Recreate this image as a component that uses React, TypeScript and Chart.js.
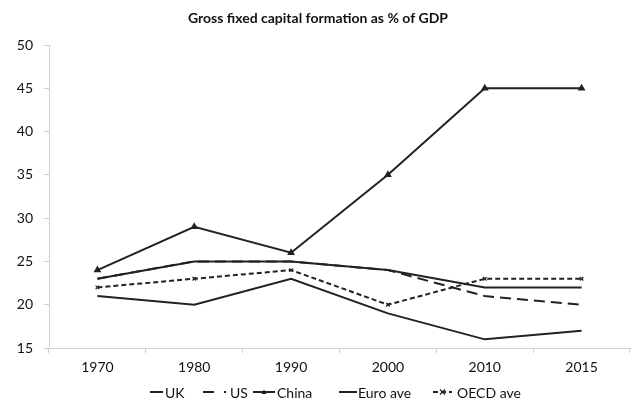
import React, { useEffect, useRef } from "react";
import { Chart, registerables } from "chart.js";
Chart.register(...registerables);

const years = ["1970", "1980", "1990", "2000", "2010", "2015"];
const ukValues = [21, 20, 23, 19, 16, 17];
const usValues = [23, 25, 25, 24, 21, 20];
const chinaValues = [24, 29, 26, 35, 45, 45];
const euroValues = [23, 25, 25, 24, 22, 22];
const oecdValues = [22, 23, 24, 20, 23, 23];
const titleText = "Gross fixed capital formation as % of GDP";
const FONT = "Lato, 'Open Sans', sans-serif";
const INK = "#222222";

export default function App() {
  const ref = useRef<HTMLCanvasElement>(null);
  useEffect(() => {
    const canvas = ref.current!;
    const legendPlugin = {
      id: "customLegend",
      afterDraw(chart: any) {
        const ctx = chart.ctx as CanvasRenderingContext2D;
        ctx.save();
        ctx.font = `bold 14px ${FONT}`;
        ctx.fillStyle = "#111";
        ctx.textAlign = "center";
        ctx.textBaseline = "middle";
        ctx.fillText(titleText, 318, 18);
        const y = 392;
        ctx.font = `14px ${FONT}`;
        ctx.textAlign = "left";
        const items = chart.data.datasets.map((d: any) => d);
        const layout = [
          { x0: 150, x1: 163, tx: 165 },
          { x0: 203, x1: 219, tx: 230 },
          { x0: 253, x1: 275, tx: 277 },
          { x0: 339, x1: 357, tx: 358 },
          { x0: 433, x1: 452, tx: 457 },
        ];
        items.forEach((d: any, i: number) => {
          const L = layout[i];
          ctx.strokeStyle = INK;
          ctx.lineWidth = 2;
          ctx.setLineDash(d.borderDash || []);
          ctx.beginPath();
          ctx.moveTo(L.x0, y);
          ctx.lineTo(L.x1, y);
          ctx.stroke();
          ctx.setLineDash([]);
          if (i === 1) {
            ctx.fillStyle = INK;
            ctx.fillRect(224, y - 1, 2, 2);
          }
          const cx = (L.x0 + L.x1) / 2;
          if (d.pointStyle === "triangle") {
            ctx.fillStyle = INK;
            ctx.beginPath();
            ctx.moveTo(cx, y - 2.5);
            ctx.lineTo(cx + 2.5, y + 2);
            ctx.lineTo(cx - 2.5, y + 2);
            ctx.closePath();
            ctx.fill();
          } else if (d.pointStyle === "crossRot") {
            ctx.lineWidth = 1.2;
            ctx.beginPath();
            ctx.moveTo(cx - 2.5, y - 2.5);
            ctx.lineTo(cx + 2.5, y + 2.5);
            ctx.moveTo(cx + 2.5, y - 2.5);
            ctx.lineTo(cx - 2.5, y + 2.5);
            ctx.stroke();
          }
          ctx.fillStyle = "#111";
          ctx.fillText(d.label, L.tx, y + 1);
        });
        ctx.restore();
      },
    };
    const base = {
      borderColor: INK,
      backgroundColor: INK,
      borderWidth: 2,
      pointRadius: 0,
      tension: 0,
    };
    const chart = new Chart(canvas, {
      type: "line",
      data: {
        labels: years,
        datasets: [
          { ...base, label: "UK", data: ukValues },
          { ...base, label: "US", data: usValues, borderDash: [11, 6] },
          { ...base, label: "China", data: chinaValues, pointStyle: "triangle", pointRadius: 2.5 },
          { ...base, label: "Euro ave", data: euroValues },
          { ...base, label: "OECD ave", data: oecdValues, borderDash: [5, 3], pointStyle: "crossRot", pointRadius: 2.5, pointBorderWidth: 1.2 },
        ] as any,
      },
      options: {
        animation: false,
        responsive: false,
        maintainAspectRatio: false,
        layout: { padding: { top: 45, bottom: 27, left: 0, right: 0 } },
        plugins: { legend: { display: false }, title: { display: false }, tooltip: { enabled: false } },
        scales: {
          x: {
            offset: true,
            afterFit: (s: any) => { s.height = 30; },
            grid: { display: true, drawOnChartArea: false, tickLength: 5, color: "#d0d0d0", offset: true },
            border: { color: "#d0d0d0", width: 1 },
            ticks: { color: "#111", font: { family: FONT, size: 14 }, padding: 6 },
          },
          y: {
            min: 15,
            max: 50,
            afterFit: (s: any) => { s.width = 49; },
            grid: { display: true, drawOnChartArea: false, tickLength: 5, color: "#d0d0d0" },
            border: { color: "#d0d0d0", width: 1 },
            ticks: { stepSize: 5, color: "#111", font: { family: FONT, size: 14 }, padding: 11 },
          },
        },
      },
      plugins: [legendPlugin],
    });
    return () => chart.destroy();
  }, []);
  return (
    <div style={{ position: "fixed", left: 0, top: 0, width: 636, height: 405, background: "#fff" }}>
      <canvas ref={ref} width={636} height={405} style={{ width: 636, height: 405, display: "block" }} />
    </div>
  );
}
